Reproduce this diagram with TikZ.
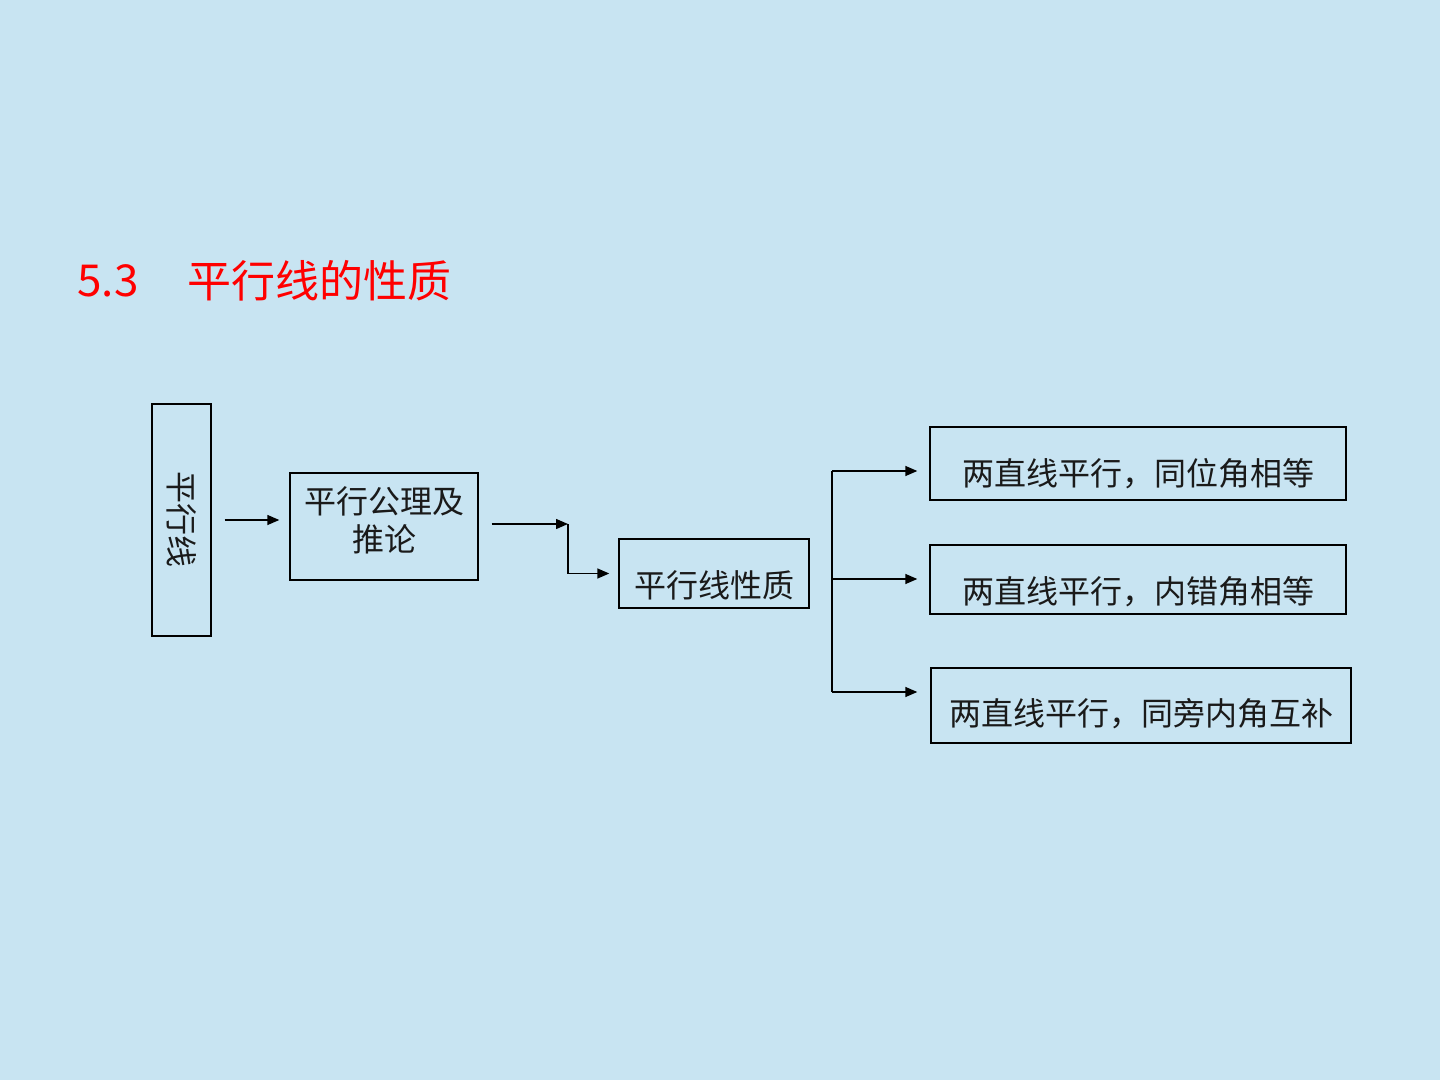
\documentclass[tikz,border=0pt]{standalone}
\usepackage{fontspec}
\setmainfont{Noto Sans CJK SC}
\usetikzlibrary{arrows.meta}
\definecolor{slidebg}{RGB}{200,228,242}
\definecolor{titlered}{RGB}{255,0,0}
\definecolor{inkgray}{RGB}{26,26,26}
\tikzset{
  box/.style={rectangle, draw=black, line width=0.7pt, inner sep=0pt},
  boxtext/.style={font=\fontsize{16pt}{19pt}\selectfont, text=inkgray, inner sep=0pt},
  arrow/.style={line width=0.7pt, -{Triangle[length=6pt,width=5pt]}}
}

\begin{document}
\begin{tikzpicture}[x=0.5pt, y=-0.5pt]

    % Background
    \useasboundingbox[fill=slidebg] (0,0) rectangle (1440,1080);

    % Title
    \node (num) [anchor=west, inner sep=0pt, text=titlered, font=\fontsize{22pt}{26pt}\selectfont] at (77,281) {5.3};
    \node (title) [anchor=west, inner sep=0pt, text=titlered, font=\fontsize{22pt}{26pt}\selectfont] at (187,281) {平行线的性质};

    % Nodes
    \node (side) [box, minimum width=29.5pt, minimum height=116pt,
      label={[boxtext, rotate=-90]center:平行线}] at (181.5,520) {};
    \node (axiom) [box, minimum width=94pt, minimum height=53.5pt,
      label={[boxtext, align=center, yshift=3pt]center:平行公理及\\推论}] at (384,526.5) {};
    \node (prop) [box, minimum width=95pt, minimum height=34.5pt,
      label={[boxtext, yshift=-6pt]center:平行线性质}] at (714,573.5) {};

    \node (corr) [box, minimum width=208pt, minimum height=36.5pt,
      label={[boxtext, yshift=-5pt]center:两直线平行，同位角相等}] at (1138,463.5) {};
    \node (alt) [box, minimum width=208pt, minimum height=34.5pt,
      label={[boxtext, yshift=-6pt]center:两直线平行，内错角相等}] at (1138,579.5) {};
    \node (cons) [box, minimum width=210pt, minimum height=37.5pt,
      label={[boxtext, yshift=-4pt]center:两直线平行，同旁内角互补}] at (1141,705.5) {};

    % Corners
    \coordinate (bend) at (568,524);
    \coordinate (forkA) at (832,471);
    \coordinate (forkB) at (832,579);
    \coordinate (forkC) at (832,692);

    % Arrows
    \draw [arrow, shorten <=6.5pt, shorten >=5pt] (side.east |- 0,520) -- (axiom.west |- 0,520);
    \draw [arrow, shorten <=6.5pt] (axiom.east |- bend) -- (bend);
    \draw [arrow, shorten >=4.5pt] (bend) |- (prop.west);

    \draw [line width=0.7pt] (forkA) -- (forkC);
    \draw [arrow, shorten >=6pt] (forkA) -- (forkA -| corr.west);
    \draw [arrow, shorten >=6pt] (forkB) -- (forkB -| alt.west);
    \draw [arrow, shorten >=6.5pt] (forkC) -- (forkC -| cons.west);

\end{tikzpicture}
\end{document}
